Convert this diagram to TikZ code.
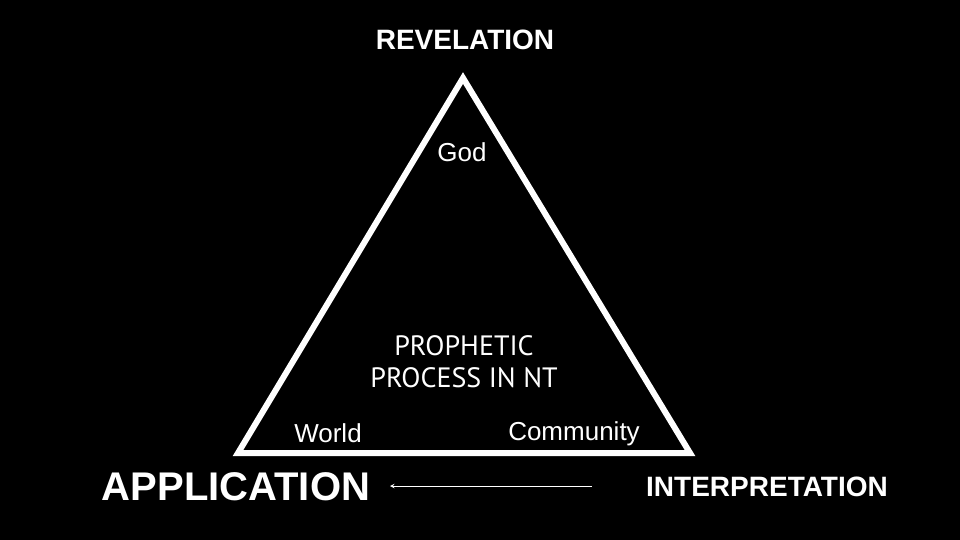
\documentclass[tikz,border=0pt]{standalone}
\usepackage{fontspec}
\setmainfont{Liberation Sans}
\newfontfamily\ptsans{PT Sans}
\begin{document}
\begin{tikzpicture}[x=1pt,y=-1pt,
  lbl/.style={text=white,inner sep=0pt,anchor=center},
  big/.style={lbl,font=\bfseries\fontsize{28}{30}\selectfont},
  small/.style={lbl,font=\fontsize{26}{28}\selectfont}]
\fill[black] (0,0) rectangle (960,540);
\useasboundingbox (0,0) rectangle (960,540);
\coordinate (A) at (463,78);
\coordinate (B) at (238,453);
\coordinate (C) at (690,453);
\draw[white,line width=6pt,line join=miter] (A) -- (B) -- (C) -- cycle;
\node[big] (rev) at (465,40) {REVELATION};
\node[lbl,font=\bfseries\fontsize{40}{42}\selectfont] (app) at (236,487) {APPLICATION};
\node[big] (int) at (767,487) {INTERPRETATION};
\node[small] (god) at (462,152) {God};
\node[small] (world) at (328,433) {World};
\node[small] (comm) at (574,434) {Community};
\node[lbl,font=\ptsans\fontsize{28}{32}\selectfont,align=center] (pp) at (464,362) {PROPHETIC\\PROCESS IN NT};
\coordinate (s) at (592,486);
\coordinate (e) at (390,486);
\draw[white,line width=1pt,-stealth] (s) -- (e);
\end{tikzpicture}
\end{document}
